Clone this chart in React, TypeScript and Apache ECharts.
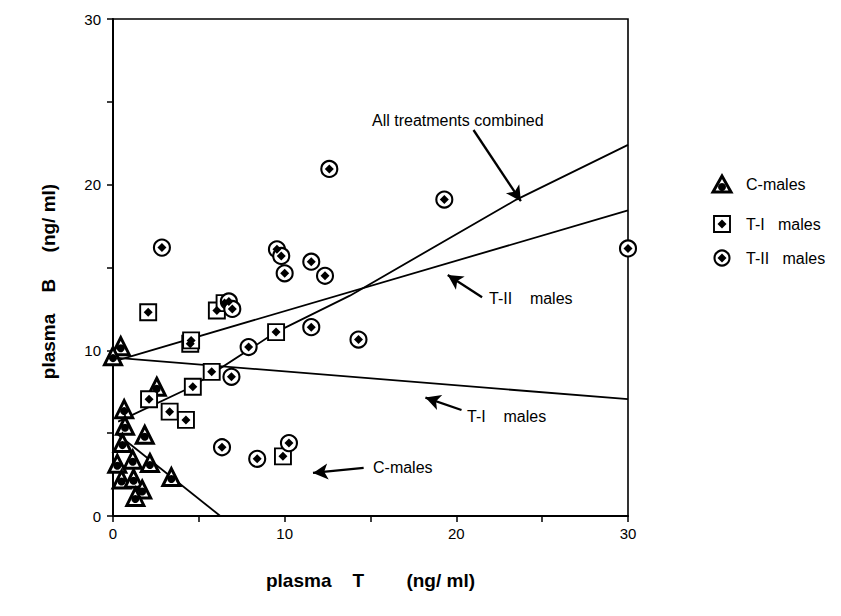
import React, { useEffect, useRef } from "react";
import * as echarts from "echarts";

// C-males (triangles)
const cMalesT = [0.45, 0.0, 2.55, 0.65, 0.7, 1.85, 0.55, 0.25, 1.15, 2.15, 3.4, 0.5, 1.2, 1.7, 1.3];
const cMalesB = [10.25, 9.65, 7.8, 6.45, 5.45, 4.9, 4.4, 3.15, 3.4, 3.2, 2.35, 2.2, 2.25, 1.6, 1.15];

// T-I males (squares)
const tIMalesT = [2.05, 6.05, 6.5, 4.5, 4.55, 9.5, 5.75, 4.65, 2.1, 3.3, 4.25, 9.9];
const tIMalesB = [12.3, 12.4, 12.85, 10.4, 10.6, 11.1, 8.7, 7.8, 7.05, 6.3, 5.8, 3.6];

// T-II males (circles)
const tIIMalesT = [2.85, 12.6, 19.3, 9.55, 9.8, 10.0, 11.55, 12.35, 30.0, 6.75, 6.95, 7.9, 11.55, 14.3, 6.9, 6.35, 8.4, 10.25];
const tIIMalesB = [16.2, 20.95, 19.1, 16.1, 15.7, 14.65, 15.35, 14.5, 16.15, 12.95, 12.5, 10.2, 11.4, 10.65, 8.4, 4.15, 3.45, 4.4];

// Regression lines
const cLineT = [0.25, 6.25];
const cLineB = [4.95, 0];
const tILineT = [0.25, 30];
const tILineB = [9.55, 7.05];
const tIILineT = [0.25, 30];
const tIILineB = [9.4, 18.45];
const allLineT = [0.3, 4.6, 9.5, 13.8, 23.5, 30];
const allLineB = [5.7, 7.8, 11.1, 13.3, 19.1, 22.4];

// Annotation arrows: [tailT, tailB, tipT, tipB]
const arrowAll = [21.0, 23.3, 23.76, 19.0];
const arrowTII = [21.5, 13.2, 19.5, 14.55];
const arrowTI = [20.3, 6.4, 18.2, 7.15];
const arrowC = [14.6, 2.9, 11.65, 2.6];

const axisTicks = [0, 10, 20, 30];

const zip = (a: number[], b: number[]) => a.map((v, i) => [v, b[i]]);
const NB = "\u00a0";
const sp = (n: number) => NB.repeat(n);
const FONT = "'Liberation Sans', Arial, Helvetica, sans-serif";

export default function App() {
  const ref = useRef<HTMLDivElement>(null);
  useEffect(() => {
    if (!ref.current) return;
    const chart = echarts.init(ref.current, undefined, { renderer: "svg" });
    const arrowLine = (a: number[]) => ({
      type: "line",
      data: [],
      silent: true,
      markLine: {
        silent: true,
        animation: false,
        symbol: ["none", "arrow"],
        symbolSize: [12, 15],
        label: { show: false },
        lineStyle: { color: "#000", width: 2.3, type: "solid" },
        data: [[{ coord: [a[0], a[1]] }, { coord: [a[2], a[3]] }]],
      },
    });
    const lineSeries = (t: number[], b: number[]) => ({
      type: "line",
      data: zip(t, b),
      showSymbol: false,
      symbol: "none",
      silent: true,
      lineStyle: { color: "#000", width: 1.8 },
      z: 3,
    });
    const axisCommon = {
      type: "value",
      min: 0,
      max: 30,
      interval: 5,
      axisLine: { show: true, lineStyle: { color: "#000", width: 2 } },
      axisTick: { show: true, length: 6, lineStyle: { color: "#000", width: 1.5 } },
      splitLine: { show: false },
      axisLabel: {
        color: "#000",
        fontFamily: FONT,
        fontSize: 15,
        formatter: (v: number) => (axisTicks.includes(v) ? String(v) : ""),
      },
    };
    const txt = { color: "#000", fontFamily: FONT, fontSize: 19, fontWeight: "bold" };
    const small = `16px ${FONT}`;
    chart.setOption({
      animation: false,
      backgroundColor: "#fff",
      grid: {
        left: 113,
        right: 213,
        top: 19,
        bottom: 100,
        show: true,
        borderColor: "#000",
        borderWidth: 1.6,
      },
      xAxis: {
        ...axisCommon,
        axisLabel: { ...axisCommon.axisLabel, margin: 10 },
        name: `plasma${sp(4)}T${sp(8)}(ng/ ml)`,
        nameLocation: "middle",
        nameGap: 55,
        nameTextStyle: txt,
      },
      yAxis: {
        ...axisCommon,
        axisLabel: { ...axisCommon.axisLabel, margin: 12 },
        name: `plasma${sp(4)}B${sp(5)}(ng/ ml)`,
        nameLocation: "middle",
        nameGap: 55,
        nameRotate: 90,
        nameTextStyle: { ...txt, padding: [0, 28, 0, 0] },
      },
      series: [
        lineSeries(cLineT, cLineB),
        lineSeries(tILineT, tILineB),
        lineSeries(tIILineT, tIILineB),
        lineSeries(allLineT, allLineB),
        {
          name: "C-males",
          type: "scatter",
          data: zip(cMalesT, cMalesB),
          symbol: "triangle",
          symbolSize: 17,
          itemStyle: { color: "#fff", borderColor: "#000", borderWidth: 3, opacity: 1 },
          z: 4,
        },
        {
          type: "scatter",
          data: zip(cMalesT, cMalesB),
          symbol: "circle",
          symbolSize: 8,
          symbolOffset: [0, 2],
          itemStyle: { color: "#000", opacity: 1 },
          z: 5,
        },
        {
          name: "T-I males",
          type: "scatter",
          data: zip(tIMalesT, tIMalesB),
          symbol: "rect",
          symbolSize: 16,
          itemStyle: { color: "#fff", borderColor: "#000", borderWidth: 1.9, opacity: 1 },
          z: 4,
        },
        {
          type: "scatter",
          data: zip(tIMalesT, tIMalesB),
          symbol: "diamond",
          symbolSize: 9,
          itemStyle: { color: "#000", opacity: 1 },
          z: 5,
        },
        {
          name: "T-II males",
          type: "scatter",
          data: zip(tIIMalesT, tIIMalesB),
          symbol: "circle",
          symbolSize: 16,
          itemStyle: { color: "#fff", borderColor: "#000", borderWidth: 2.1, opacity: 1 },
          z: 4,
        },
        {
          type: "scatter",
          data: zip(tIIMalesT, tIIMalesB),
          symbol: "diamond",
          symbolSize: 9,
          itemStyle: { color: "#000", opacity: 1 },
          z: 5,
        },
        arrowLine(arrowAll),
        arrowLine(arrowTII),
        arrowLine(arrowTI),
        arrowLine(arrowC),
      ],
      graphic: [
        { type: "text", left: 372, top: 112, style: { text: "All treatments combined", font: small, fill: "#000" } },
        { type: "text", left: 489, top: 290, style: { text: `T-II${sp(4)}males`, font: small, fill: "#000" } },
        { type: "text", left: 467, top: 408, style: { text: `T-I${sp(4)}males`, font: small, fill: "#000" } },
        { type: "text", left: 373, top: 459, style: { text: "C-males", font: small, fill: "#000" } },
        // legend
        { type: "polygon", shape: { points: [[722, 176], [713, 192], [731, 192]] }, style: { fill: "#fff", stroke: "#000", lineWidth: 3 } },
        { type: "circle", shape: { cx: 722, cy: 187, r: 4 }, style: { fill: "#000" } },
        { type: "text", left: 746, top: 176, style: { text: "C-males", font: small, fill: "#000" } },
        { type: "rect", shape: { x: 714, y: 216, width: 16, height: 16 }, style: { fill: "#fff", stroke: "#000", lineWidth: 1.9 } },
        { type: "polygon", shape: { points: [[722, 219.5], [726.5, 224], [722, 228.5], [717.5, 224]] }, style: { fill: "#000" } },
        { type: "text", left: 746, top: 216, style: { text: `T-I${sp(3)}males`, font: small, fill: "#000" } },
        { type: "circle", shape: { cx: 722, cy: 258, r: 7.5 }, style: { fill: "#fff", stroke: "#000", lineWidth: 2.1 } },
        { type: "polygon", shape: { points: [[722, 253.5], [726.5, 258], [722, 262.5], [717.5, 258]] }, style: { fill: "#000" } },
        { type: "text", left: 746, top: 250, style: { text: `T-II${sp(3)}males`, font: small, fill: "#000" } },
      ],
    });
    return () => chart.dispose();
  }, []);
  return <div ref={ref} style={{ position: "absolute", left: 0, top: 0, width: 841, height: 616 }} />;
}
